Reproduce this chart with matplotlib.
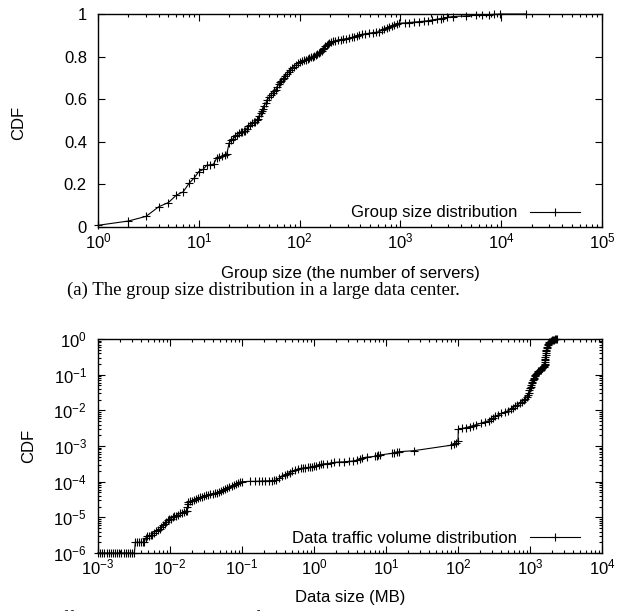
import matplotlib
matplotlib.use("Agg")
import matplotlib.pyplot as plt
from matplotlib.ticker import LogLocator, NullFormatter

# ========================
# Data
# ========================
group_size = [1, 2, 3, 4, 5, 6, 7, 8, 9, 10, 11, 12, 13, 14, 15, 16, 17, 18, 19,
              20, 21, 22, 23, 24, 25, 26, 27, 28, 29, 30, 31, 32, 34, 35, 36, 38,
              39, 40, 41, 42, 43, 44, 46, 48, 50, 52, 54, 56, 58, 60, 62, 64, 66,
              68, 70, 72, 75, 78, 81, 84, 88, 92, 96, 100, 105, 110, 115, 120, 125,
              130, 135, 140, 145, 150, 155, 160, 165, 170, 175, 180, 185, 190, 196,
              205, 215, 225, 240, 255, 270, 290, 310, 330, 350, 370, 390, 420, 450,
              490, 530, 570, 615, 650, 690, 730, 775, 820, 870, 920, 975, 1100, 1230,
              1350, 1520, 1700, 1900, 2080, 2300, 2500, 2620, 2900, 3300, 4500, 5600,
              6500, 7600, 8500, 9800, 17500]
group_cdf = [0.008, 0.028, 0.05, 0.095, 0.115, 0.15, 0.165, 0.205, 0.23, 0.26, 0.27,
             0.29, 0.292, 0.295, 0.322, 0.328, 0.333, 0.338, 0.345, 0.395, 0.408,
             0.415, 0.425, 0.432, 0.44, 0.445, 0.447, 0.449, 0.452, 0.462, 0.472,
             0.478, 0.486, 0.491, 0.495, 0.502, 0.506, 0.52, 0.535, 0.545, 0.556,
             0.566, 0.58, 0.597, 0.61, 0.62, 0.628, 0.637, 0.645, 0.657, 0.672, 0.68,
             0.687, 0.694, 0.70, 0.707, 0.718, 0.728, 0.737, 0.745, 0.753, 0.76,
             0.768, 0.774, 0.778, 0.782, 0.786, 0.79, 0.794, 0.797, 0.80, 0.804,
             0.808, 0.812, 0.816, 0.822, 0.828, 0.835, 0.841, 0.848, 0.854, 0.86,
             0.864, 0.867, 0.871, 0.874, 0.878, 0.88, 0.882, 0.884, 0.886, 0.89,
             0.894, 0.898, 0.902, 0.905, 0.907, 0.91, 0.912, 0.914, 0.917, 0.923,
             0.93, 0.936, 0.941, 0.945, 0.95, 0.954, 0.957, 0.958, 0.96, 0.962,
             0.964, 0.966, 0.969, 0.972, 0.975, 0.978, 0.98, 0.984, 0.988, 0.991,
             0.994, 0.995, 0.997, 0.998, 1.0, 1.0]
cdf_ticks = [0, 0.2, 0.4, 0.6, 0.8, 1]
cdf_tick_labels = ['0', '0.2', '0.4', '0.6', '0.8', '1']

data_size = [0.001, 0.00107, 0.00115, 0.00123, 0.00132, 0.00141, 0.00151, 0.00162,
             0.00173, 0.00185, 0.00198, 0.00212, 0.00227, 0.00243, 0.0026, 0.00278,
             0.00298, 0.0032, 0.0033, 0.00345, 0.0037, 0.0039, 0.0042, 0.0044,
             0.0046, 0.0048, 0.0051, 0.0054, 0.0057, 0.006, 0.0064, 0.0068, 0.0072,
             0.0076, 0.008, 0.0084, 0.0088, 0.0093, 0.0098, 0.0103, 0.0109, 0.0115,
             0.0122, 0.013, 0.0138, 0.0146, 0.0155, 0.0165, 0.0172, 0.0175, 0.0177,
             0.0179, 0.019, 0.0202, 0.0215, 0.0228, 0.0243, 0.026, 0.0278, 0.0297,
             0.0318, 0.034, 0.0364, 0.039, 0.0417, 0.0446, 0.0477, 0.051, 0.0546,
             0.0584, 0.0625, 0.0669, 0.0716, 0.0766, 0.082, 0.0877, 0.094, 0.1,
             0.13, 0.15, 0.17, 0.19, 0.21, 0.24, 0.26, 0.28, 0.3, 0.33, 0.36, 0.39,
             0.42, 0.46, 0.5, 0.55, 0.6, 0.65, 0.7, 0.76, 0.82, 0.88, 0.95, 1.0,
             1.08, 1.17, 1.25, 1.35, 1.5, 1.7, 1.9, 2.2, 2.6, 3.06, 3.5, 4.0, 4.3,
             4.6, 5.5, 7.0, 7.4, 7.8, 8.2, 12, 13, 14, 15, 24.5, 80, 88, 95, 100,
             101, 115, 130, 145, 160, 180, 210, 240, 270, 290, 310, 330, 360, 400,
             450, 500, 540, 580, 620, 670, 720, 770, 820, 860, 900, 930, 955, 980,
             1000, 1020, 1040, 1060, 1080, 1100, 1120, 1140, 1165, 1190, 1220, 1250,
             1280, 1310, 1340, 1370, 1400, 1430, 1460, 1490, 1520, 1550, 1580, 1590,
             1600, 1610, 1620, 1630, 1640, 1650, 1660, 1675, 1690, 1710, 1730, 1755,
             1780, 1810, 1840, 1880, 1930, 1990, 2060, 2150, 2250, 2330, 2400]
data_cdf = [1e-6, 1e-6, 1e-6, 1e-6, 1e-6, 1e-6, 1e-6, 1e-6, 1e-6, 1e-6, 1e-6, 1e-6,
            1e-6, 1e-6, 1e-6, 1e-6, 1e-6, 1e-6, 2e-6, 2e-6, 2e-6, 2e-6, 2e-6, 2.1e-6,
            2.6e-6, 3e-6, 3e-6, 3.1e-6, 3.3e-6, 3.7e-6, 4.1e-6, 4.3e-6, 4.6e-6,
            5.2e-6, 6e-6, 6.7e-6, 7.4e-6, 8.2e-6, 8.8e-6, 9.2e-6, 1.0e-5, 1.06e-5,
            1.12e-5, 1.2e-5, 1.3e-5, 1.36e-5, 1.42e-5, 1.5e-5, 1.55e-5, 1.9e-5,
            2.3e-5, 2.66e-5, 2.8e-5, 2.95e-5, 3.15e-5, 3.3e-5, 3.45e-5, 3.6e-5,
            3.8e-5, 4.0e-5, 4.15e-5, 4.3e-5, 4.45e-5, 4.6e-5, 4.75e-5, 4.9e-5,
            5.1e-5, 5.4e-5, 5.8e-5, 6.2e-5, 6.6e-5, 7.1e-5, 7.6e-5, 8.1e-5, 8.7e-5,
            9.3e-5, 9.8e-5, 1.0e-4, 1.02e-4, 1.02e-4, 1.03e-4, 1.04e-4, 1.05e-4,
            1.06e-4, 1.07e-4, 1.08e-4, 1.1e-4, 1.25e-4, 1.4e-4, 1.55e-4, 1.68e-4,
            1.8e-4, 1.95e-4, 2.1e-4, 2.25e-4, 2.35e-4, 2.4e-4, 2.45e-4, 2.5e-4,
            2.55e-4, 2.6e-4, 2.7e-4, 2.8e-4, 2.9e-4, 3.05e-4, 3.15e-4, 3.2e-4,
            3.3e-4, 3.45e-4, 3.55e-4, 3.6e-4, 3.7e-4, 3.8e-4, 4.0e-4, 4.3e-4,
            4.6e-4, 4.9e-4, 5.1e-4, 5.3e-4, 5.5e-4, 5.6e-4, 6.2e-4, 6.5e-4, 6.8e-4,
            6.9e-4, 7.4e-4, 1.05e-3, 1.15e-3, 1.25e-3, 1.4e-3, 2.95e-3, 3.1e-3,
            3.3e-3, 3.5e-3, 3.7e-3, 4.0e-3, 4.4e-3, 4.8e-3, 5.1e-3, 5.6e-3, 6.2e-3,
            6.8e-3, 7.4e-3, 8.2e-3, 9e-3, 9.8e-3, 1.07e-2, 1.2e-2, 1.3e-2, 1.42e-2,
            1.58e-2, 1.75e-2, 1.9e-2, 2.1e-2, 2.35e-2, 2.7e-2, 3.1e-2, 3.6e-2,
            4.1e-2, 4.6e-2, 5.2e-2, 5.8e-2, 6.3e-2, 6.9e-2, 7.6e-2, 8.3e-2, 9.1e-2,
            9.8e-2, 0.105, 0.111, 0.117, 0.123, 0.128, 0.133, 0.139, 0.145, 0.15,
            0.155, 0.16, 0.165, 0.17, 0.185, 0.2, 0.22, 0.25, 0.28, 0.31, 0.35, 0.4,
            0.45, 0.5, 0.55, 0.6, 0.66, 0.72, 0.77, 0.8, 0.84, 0.88, 0.91, 0.94,
            0.965, 0.98, 0.99, 1.0]

# ========================
# Style
# ========================
plt.rcParams['font.family'] = ['Liberation Sans', 'DejaVu Sans']
plt.rcParams['mathtext.fontset'] = 'custom'
plt.rcParams['mathtext.rm'] = 'Liberation Sans'
plt.rcParams['mathtext.it'] = 'Liberation Sans:italic'
plt.rcParams['mathtext.bf'] = 'Liberation Sans:bold'
plt.rcParams['font.size'] = 12
plt.rcParams['axes.linewidth'] = 1.0

W, H = 639, 611
fig = plt.figure(figsize=(W / 100, H / 100), dpi=100)


def box(left, top, right, bottom):
    # pixel box -> figure fraction
    return [left / W, 1 - bottom / H, (right - left) / W, (bottom - top) / H]


def style_axes(ax):
    ax.tick_params(which='both', direction='in', top=True, right=True, width=0.8)
    ax.tick_params(which='major', length=5)
    ax.tick_params(which='minor', length=2.5)
    ax.tick_params(axis='x', pad=3)
    ax.tick_params(axis='y', pad=8)


def legend(ax, y):
    ax.legend(loc='center right', bbox_to_anchor=(0.956, y), frameon=False,
              markerfirst=False, handlelength=3, handletextpad=0.75,
              borderpad=0, borderaxespad=0)


line_kw = dict(color='black', lw=0.8, marker='+', ms=6, mew=0.8, clip_on=False)

# ========================
# (a) Group size
# ========================
ax1 = fig.add_axes(box(98, 14, 602, 227))
ax1.plot(group_size, group_cdf, label='Group size distribution', **line_kw)
ax1.set_xscale('log')
ax1.set_xlim(1, 1e5)
ax1.set_ylim(0, 1)
ax1.set_yticks(cdf_ticks, cdf_tick_labels)
ax1.xaxis.set_minor_locator(LogLocator(base=10, subs=range(2, 10), numticks=20))
ax1.xaxis.set_minor_formatter(NullFormatter())
style_axes(ax1)
ax1.set_ylabel('CDF')
ax1.yaxis.set_label_coords(-0.143, 0.49)
ax1.set_xlabel('Group size (the number of servers)')
ax1.xaxis.label.set_va('center')
ax1.xaxis.set_label_coords(0.5, -0.216)
legend(ax1, 0.066)

fig.text(67 / W, 1 - 290 / H, '(a) The group size distribution in a large data center.',
         family='Liberation Serif', fontsize=13.5, ha='left', va='center')

# ========================
# (b) Data traffic volume
# ========================
ax2 = fig.add_axes(box(98, 339, 602, 553))
ax2.plot(data_size, data_cdf, label='Data traffic volume distribution', **line_kw)
ax2.set_xscale('log')
ax2.set_yscale('log')
ax2.set_xlim(1e-3, 1e4)
ax2.set_ylim(1e-6, 1)
for axis in (ax2.xaxis, ax2.yaxis):
    axis.set_major_locator(LogLocator(base=10, numticks=20))
    axis.set_minor_locator(LogLocator(base=10, subs=range(2, 10), numticks=20))
    axis.set_minor_formatter(NullFormatter())
style_axes(ax2)
ax2.set_ylabel('CDF')
ax2.yaxis.set_label_coords(-0.123, 0.5)
ax2.set_xlabel('Data size (MB)')
ax2.xaxis.label.set_va('center')
ax2.xaxis.set_label_coords(0.5, -0.206)
legend(ax2, 0.070)

# caption of the next figure, mostly cut off by the bottom edge
fig.text(8 / W, 1 - 624 / H,
         'The traffic volume distribution of each multicast group in the data center.',
         family='Liberation Serif', fontsize=13.5, ha='left', va='baseline')

fig.savefig('out.png', dpi=100)
